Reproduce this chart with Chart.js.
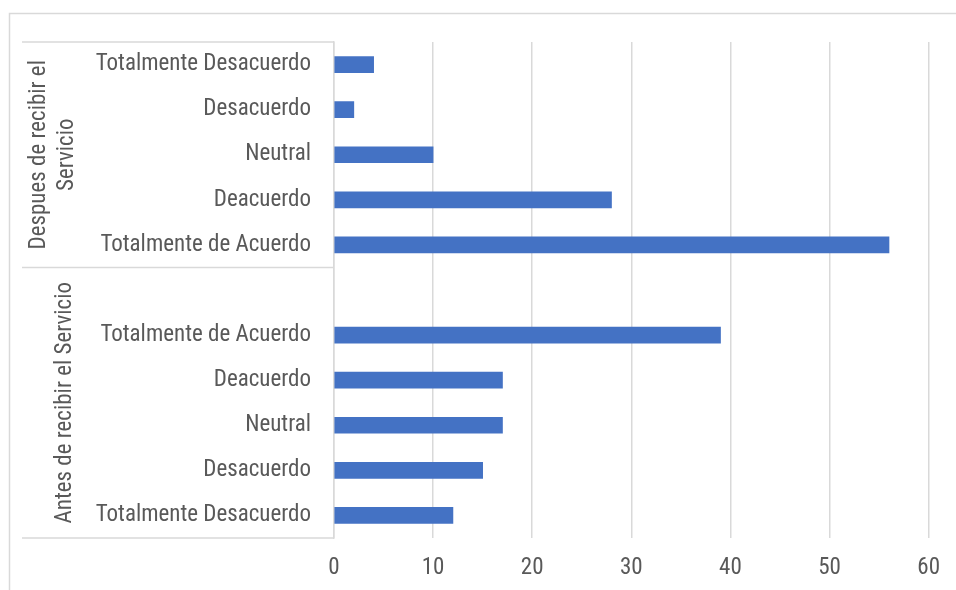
<!DOCTYPE html>
<html>
<head>
<meta charset="utf-8">
<script src="https://cdn.jsdelivr.net/npm/chart.js@4/dist/chart.umd.min.js"></script>
<style>
  html, body { margin: 0; padding: 0; background: #fff; }
  #wrap { width: 956px; height: 590px; position: relative; }
</style>
</head>
<body>
<div id="wrap"><canvas id="encuesta"></canvas></div>
<script>
// Respuestas por categoria (de arriba hacia abajo), con una fila vacia entre grupos
const categorias = [
  'Totalmente Desacuerdo', 'Desacuerdo', 'Neutral', 'Deacuerdo', 'Totalmente de Acuerdo',
  '',
  'Totalmente de Acuerdo', 'Deacuerdo', 'Neutral', 'Desacuerdo', 'Totalmente Desacuerdo'
];
const valores = [4, 2, 10, 28, 56, null, 39, 17, 17, 15, 12];

// Grupos: etiqueta (lineas), rango de filas y columna central
const grupos = [
  { lineas: ['Despues de recibir el', 'Servicio'], desde: 0, hasta: 4, x: 53 },
  { lineas: ['Antes de recibir el Servicio'], desde: 5, hasta: 10, x: 65 }
];
const ticksX = [0, 10, 20, 30, 40, 50, 60];

const fuente = '"Liberation Sans Narrow", "Arial Narrow", "Roboto Condensed", "Liberation Sans", sans-serif';
const tam = 23;
const gris = '#595959';
const linea = '#d9d9d9';

// Marco exterior, cajas de grupo y etiquetas rotadas
const gruposPlugin = {
  id: 'grupos',
  beforeDraw(chart) {
    const ctx = chart.ctx;
    ctx.save();
    ctx.strokeStyle = linea;
    ctx.lineWidth = 1.5;
    ctx.beginPath();
    ctx.moveTo(9.5, 600);
    ctx.lineTo(9.5, 13.5);
    ctx.lineTo(960, 13.5);
    ctx.stroke();
    ctx.restore();
  },
  afterDraw(chart) {
    const ctx = chart.ctx;
    const y = chart.scales.y;
    const area = chart.chartArea;
    const paso = y.getPixelForValue(1) - y.getPixelForValue(0);
    ctx.save();
    ctx.strokeStyle = linea;
    ctx.lineWidth = 1.5;
    const bordes = [area.top, y.getPixelForValue(4) + paso / 2, area.bottom];
    ctx.beginPath();
    bordes.forEach(b => {
      ctx.moveTo(22, b);
      ctx.lineTo(area.left, b);
    });
    ctx.stroke();

    ctx.fillStyle = gris;
    ctx.font = tam + 'px ' + fuente;
    ctx.textAlign = 'center';
    ctx.textBaseline = 'middle';
    grupos.forEach(g => {
      const y0 = y.getPixelForValue(g.desde) - paso / 2;
      const y1 = y.getPixelForValue(g.hasta) + paso / 2;
      const cy = (y0 + y1) / 2;
      const alto = 28;
      const cx = g.x - (g.lineas.length - 1) * alto / 2;
      g.lineas.forEach((t, i) => {
        ctx.save();
        ctx.translate(cx + i * alto, cy);
        ctx.rotate(-Math.PI / 2);
        ctx.fillText(t, 0, 0);
        ctx.restore();
      });
    });
    ctx.restore();
  }
};

new Chart(document.getElementById('encuesta'), {
  type: 'bar',
  data: {
    labels: categorias,
    datasets: [{
      data: valores,
      backgroundColor: '#4472c4',
      borderWidth: 0,
      barThickness: 16
    }]
  },
  options: {
    indexAxis: 'y',
    responsive: true,
    maintainAspectRatio: false,
    animation: false,
    layout: { padding: { top: 42, right: 27, bottom: 0, left: 0 } },
    plugins: {
      legend: { display: false },
      tooltip: { enabled: false }
    },
    scales: {
      x: {
        min: 0,
        max: 60,
        afterBuildTicks(scale) {
          scale.ticks = ticksX.map(v => ({ value: v }));
        },
        afterFit(scale) { scale.height = 52; },
        grid: { color: linea, lineWidth: 1.5, drawTicks: false },
        border: { display: false },
        ticks: {
          color: gris,
          padding: 16,
          font: { family: fuente, size: tam }
        }
      },
      y: {
        afterFit(scale) { scale.width = 334; },
        grid: { display: false, drawTicks: false },
        border: { display: true, color: linea, width: 1.5 },
        ticks: {
          color: gris,
          padding: 23,
          autoSkip: false,
          font: { family: fuente, size: tam }
        }
      }
    }
  },
  plugins: [gruposPlugin]
});
</script>
</body>
</html>
